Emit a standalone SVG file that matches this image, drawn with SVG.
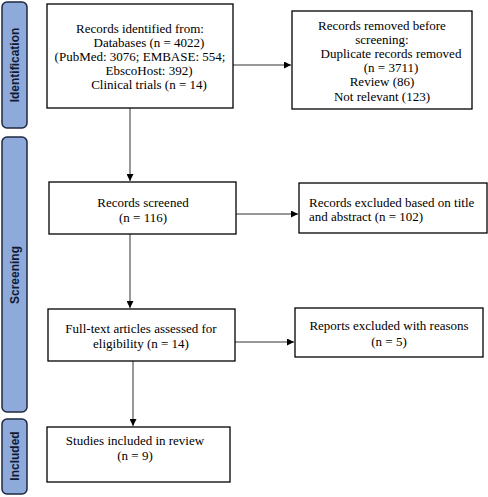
<svg xmlns="http://www.w3.org/2000/svg" width="488" height="497" viewBox="0 0 488 497">
<defs>
<marker id="ah" viewBox="0 0 10 10" refX="10" refY="5" markerWidth="7" markerHeight="7" markerUnits="userSpaceOnUse" orient="auto"><path d="M0,0 L10,5 L0,10 z" fill="#000"/></marker>
<style>
.bar{fill:#8eaadb;stroke:#1e2840;stroke-width:1.5}
.bt{font-family:"Liberation Sans",Arial,sans-serif;font-weight:bold;font-size:12px;fill:#111a33;text-anchor:middle}
.box{fill:#fff;stroke:#000;stroke-width:1.3}
.t{font-family:"Liberation Serif","Times New Roman",serif;font-size:13px;fill:#000}
.c{text-anchor:middle}
.ln{stroke:#333;stroke-width:1;fill:none;marker-end:url(#ah)}
</style>
</defs>
<rect width="488" height="497" fill="#fff"/>
<g id="bar-identification"><rect class="bar" x="2" y="2" width="25" height="126" rx="5"/><text class="bt" transform="translate(19,65) rotate(-90)">Identification</text></g>
<g id="bar-screening"><rect class="bar" x="2" y="137" width="25" height="275" rx="5"/><text class="bt" transform="translate(19,275) rotate(-90)">Screening</text></g>
<g id="bar-included"><rect class="bar" x="2" y="419" width="25" height="75" rx="5"/><text class="bt" transform="translate(19,456) rotate(-90)">Included</text></g>
<g id="connectors">
<path class="ln" d="M130,108 V181"/>
<path class="ln" d="M130,234 V308"/>
<path class="ln" d="M133,361 V426"/>
<path class="ln" d="M233,65 H291"/>
<path class="ln" d="M236,214 H298"/>
<path class="ln" d="M235,342 H294"/>
</g>
<g id="n-identified"><rect class="box" x="47" y="4" width="186" height="104"/>
<text class="t c" x="140" y="33">Records identified from:</text>
<text class="t c" x="149" y="47">Databases (n = 4022)</text>
<text class="t c" x="140" y="61">(PubMed: 3076; EMBASE: 554;</text>
<text class="t c" x="149" y="75">EbscoHost: 392)</text>
<text class="t c" x="149" y="89">Clinical trials (n = 14)</text></g>
<g id="n-removed"><rect class="box" x="292" y="11" width="180" height="98"/>
<text class="t c" x="382" y="30">Records removed before</text>
<text class="t c" x="382" y="44">screening:</text>
<text class="t c" x="391" y="58">Duplicate records removed</text>
<text class="t c" x="391" y="72">(n = 3711)</text>
<text class="t c" x="382" y="86">Review (86)</text>
<text class="t c" x="382" y="101">Not relevant (123)</text></g>
<g id="n-screened"><rect class="box" x="49" y="182" width="187" height="52"/>
<text class="t c" x="143" y="207">Records screened</text>
<text class="t c" x="143" y="222">(n = 116)</text></g>
<g id="n-excluded"><rect class="box" x="299" y="183" width="188" height="50"/>
<text class="t" x="309" y="207">Records excluded based on title</text>
<text class="t" x="309" y="221">and abstract (n = 102)</text></g>
<g id="n-fulltext"><rect class="box" x="48" y="309" width="187" height="52"/>
<text class="t c" x="141" y="333">Full-text articles assessed for</text>
<text class="t c" x="141" y="348">eligibility (n = 14)</text></g>
<g id="n-reports"><rect class="box" x="295" y="308" width="188" height="49"/>
<text class="t c" x="389" y="330">Reports excluded with reasons</text>
<text class="t c" x="389" y="346">(n = 5)</text></g>
<g id="n-included"><rect class="box" x="47" y="427" width="183" height="55"/>
<text class="t c" x="135" y="445">Studies included in review</text>
<text class="t c" x="135" y="460">(n = 9)</text></g>
</svg>
